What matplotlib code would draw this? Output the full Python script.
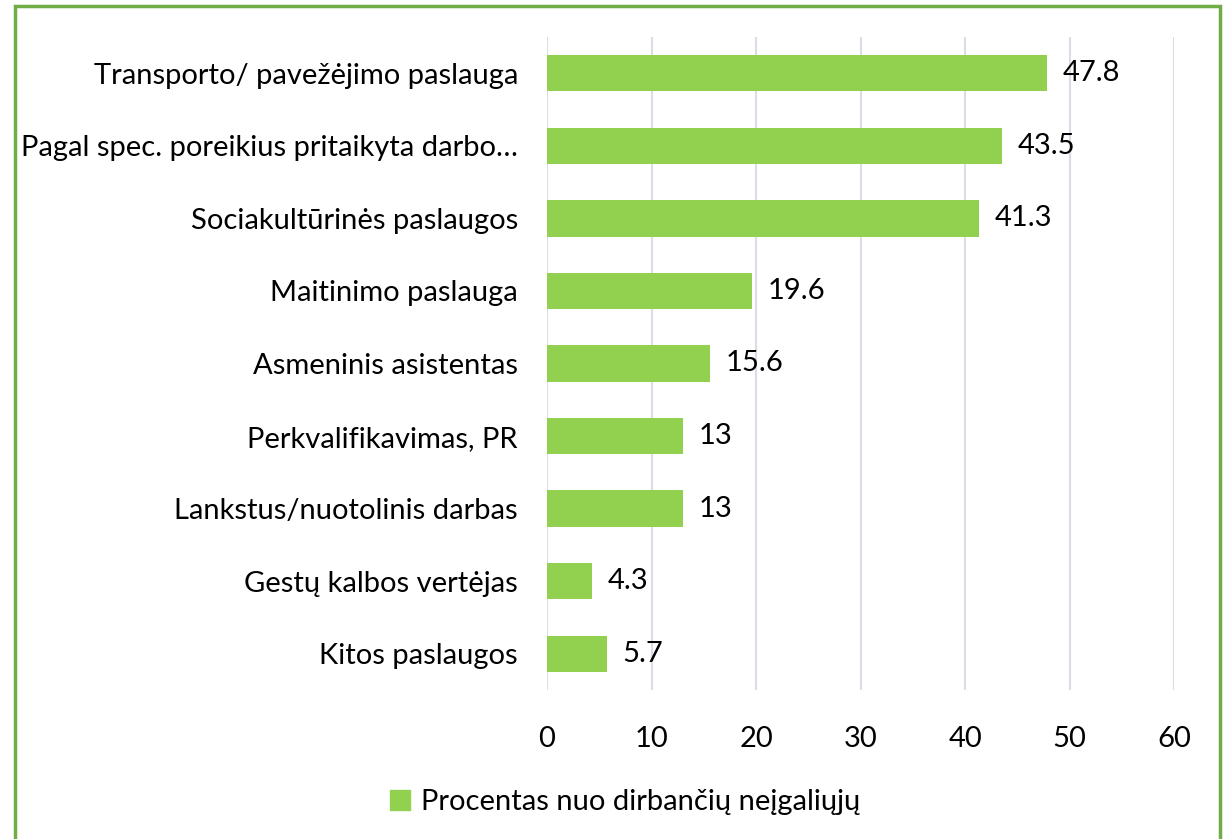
import matplotlib
matplotlib.use('Agg')
import matplotlib.pyplot as plt
from matplotlib.patches import Rectangle, Patch

categories = ['Transporto/ pavežėjimo paslauga',
              'Pagal spec. poreikius pritaikyta darbo…',
              'Sociakultūrinės paslaugos',
              'Maitinimo paslauga',
              'Asmeninis asistentas',
              'Perkvalifikavimas, PR',
              'Lankstus/nuotolinis darbas',
              'Gestų kalbos vertėjas',
              'Kitos paslaugos']
values = [47.8, 43.5, 41.3, 19.6, 15.6, 13, 13, 4.3, 5.7]
value_labels = ['47.8', '43.5', '41.3', '19.6', '15.6', '13', '13', '4.3', '5.7']
series_name = 'Procentas nuo dirbančių neįgaliųjų'

bar_color = '#92D050'
plt.rcParams['font.family'] = ['Lato', 'DejaVu Sans']
fs = 21

fig = plt.figure(figsize=(12.23, 8.39), dpi=100)
ax = fig.add_axes([0.4473, 0.1776, 0.5127, 0.7783])

ypos = list(range(len(categories)))
ax.barh(ypos, values, height=0.5, color=bar_color, zorder=3)
for y, v, lab in zip(ypos, values, value_labels):
    ax.text(v + 1.5, y, lab, va='center', ha='left', fontsize=fs, color='black')

ax.set_xlim(0, 60)
ax.set_ylim(len(categories) - 0.5, -0.5)
ax.set_xticks(range(0, 61, 10))
ax.set_yticks(ypos)
ax.set_yticklabels(categories, fontsize=fs)
ax.tick_params(axis='x', labelsize=fs, length=0, pad=26)
ax.tick_params(axis='y', length=0, pad=21)
ax.grid(axis='x', color='#D9DDE6', linewidth=1.5, zorder=0)
for s in ax.spines.values():
    s.set_visible(False)

fig.legend(handles=[Patch(color=bar_color, label=series_name)],
           loc='center', bbox_to_anchor=(625 / 1223, 1 - 802 / 839),
           frameon=False, fontsize=fs, handlelength=0.7, handleheight=0.7,
           handletextpad=0.35)

fig.patches.append(Rectangle((15 / 1223, -0.01), 1205 / 1223, 1 - 6 / 839 + 0.01,
                             transform=fig.transFigure, fill=False,
                             edgecolor='#70AD47', linewidth=2.5))

fig.savefig('out.png', dpi=100)
